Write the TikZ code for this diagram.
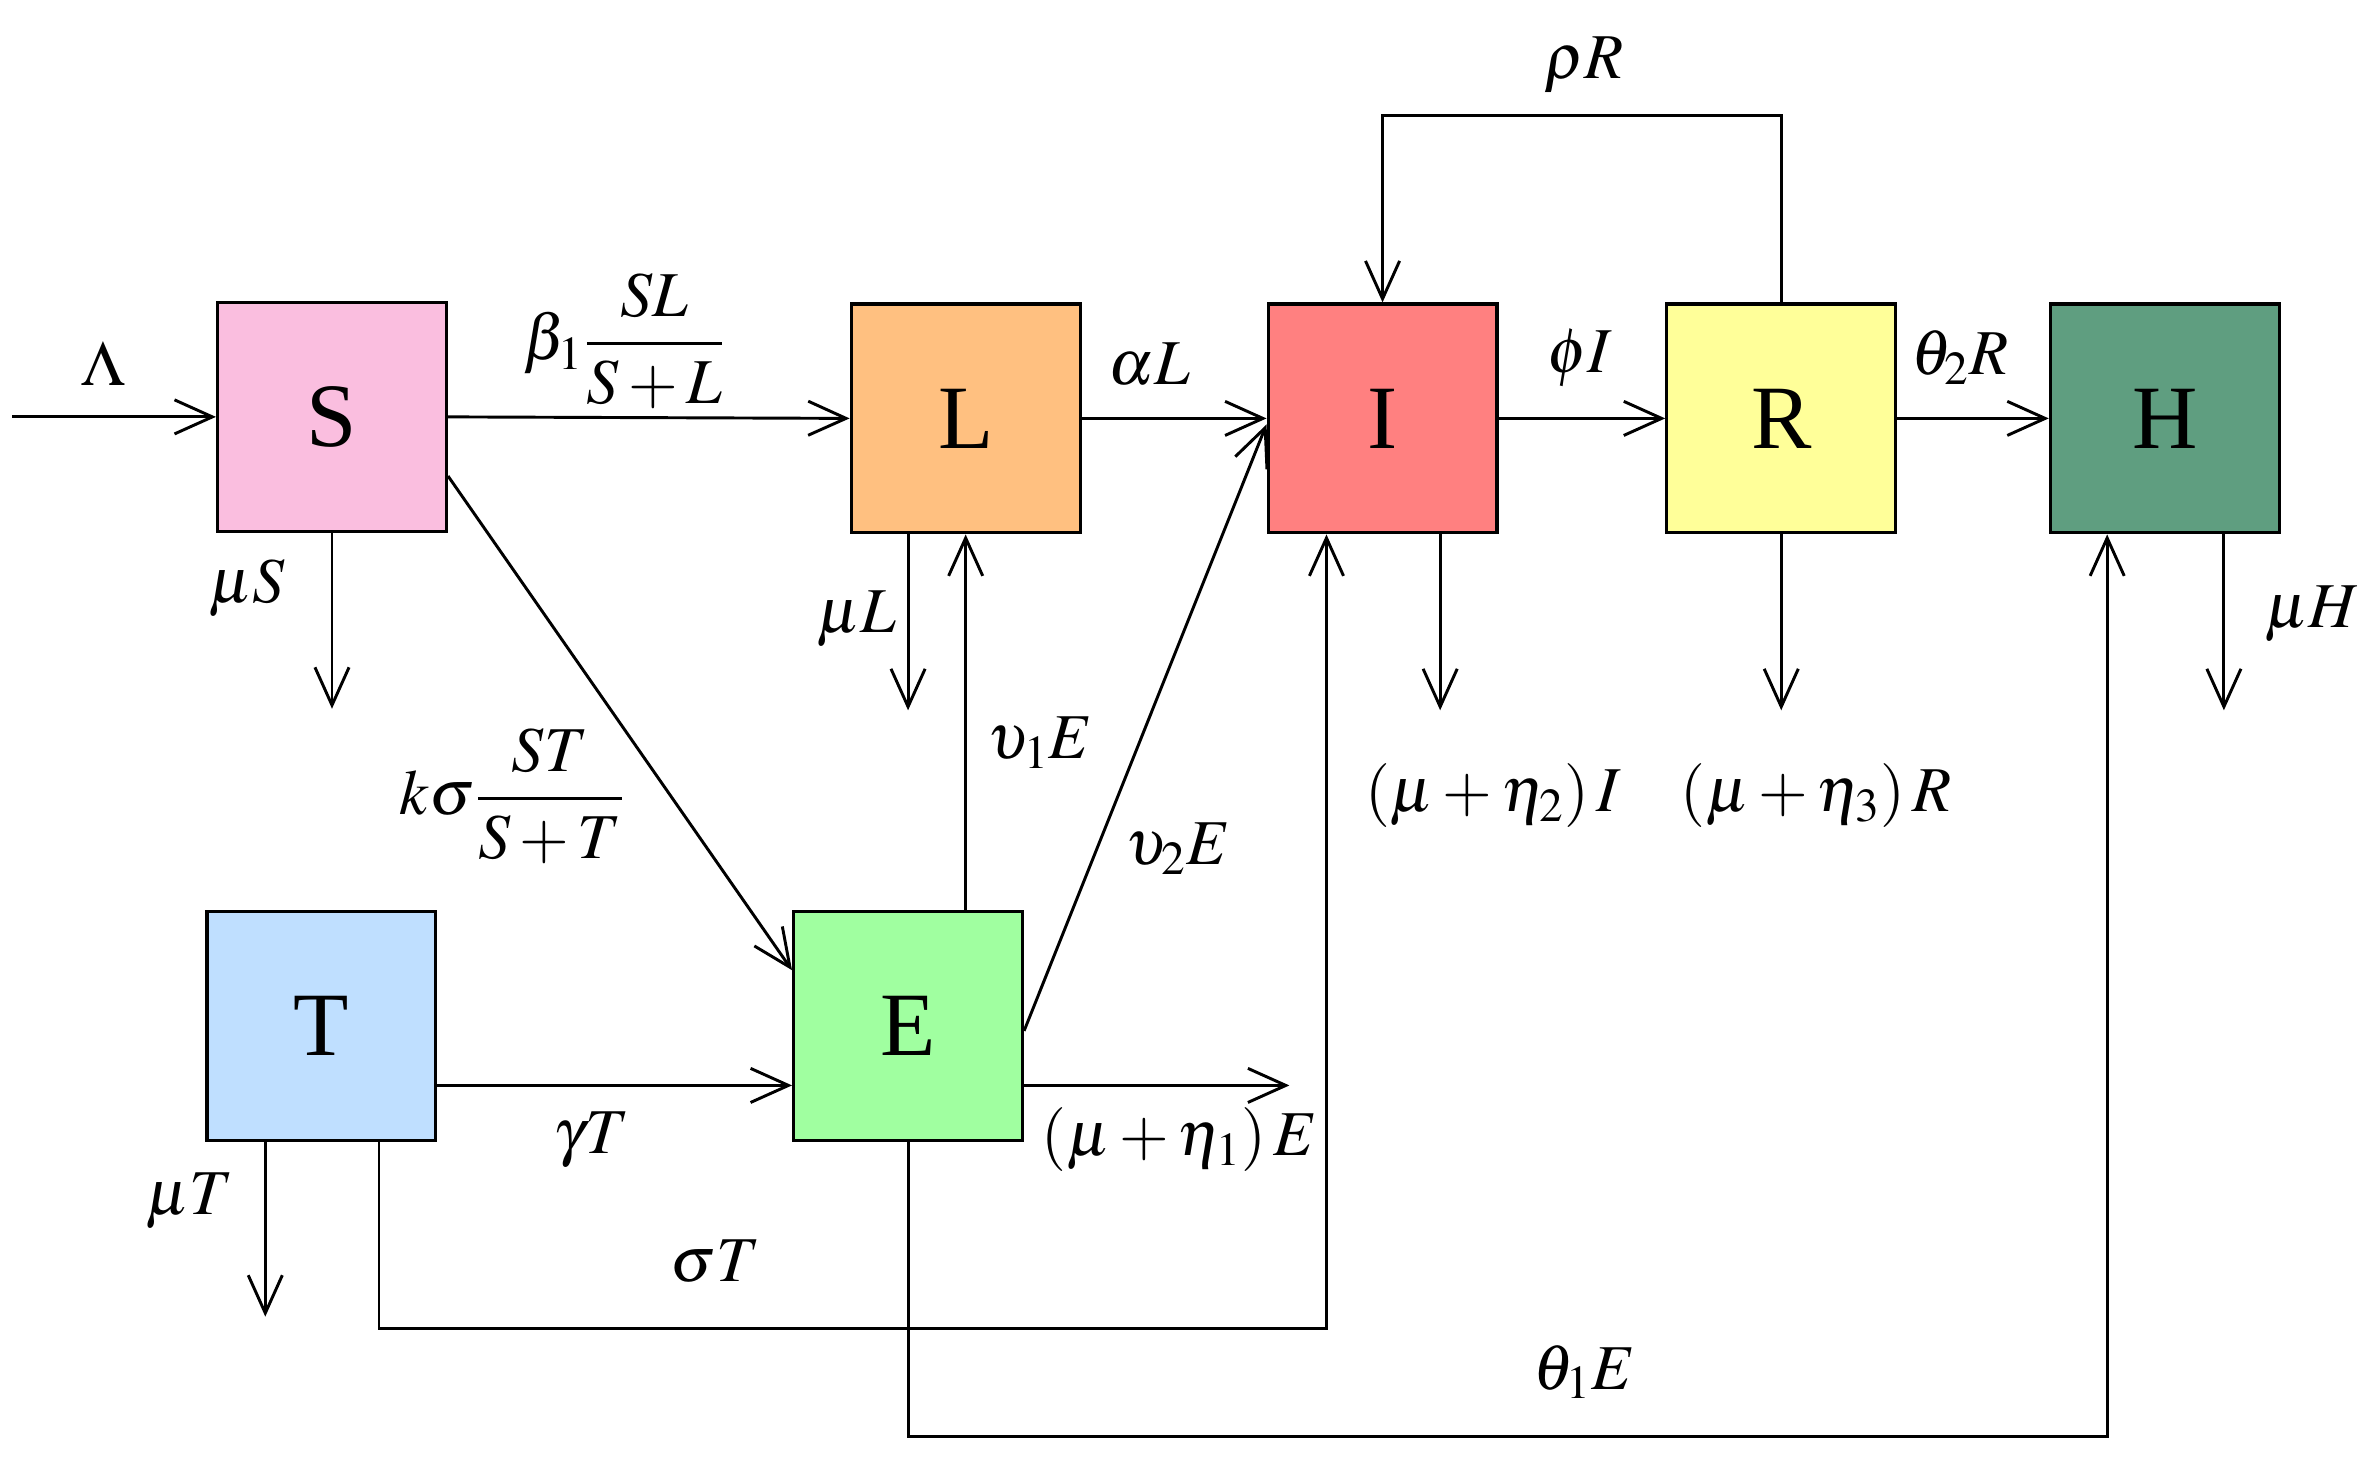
\documentclass[tikz,border=0pt]{standalone}
\usepackage{amsmath}
\usepackage{mathptmx}
\usepackage{fontspec}
\setmainfont{Liberation Serif}
\usetikzlibrary{arrows.meta,calc}
\definecolor{cS}{HTML}{FABEDF}
\definecolor{cL}{HTML}{FFC080}
\definecolor{cI}{HTML}{FF8080}
\definecolor{cR}{HTML}{FFFF99}
\definecolor{cH}{HTML}{5F9E80}
\definecolor{cT}{HTML}{BFDFFF}
\definecolor{cE}{HTML}{A0FFA0}
\begin{document}
\begin{tikzpicture}[x=0.02cm,y=-0.02cm,
  box/.style={draw,line width=1.2pt,minimum size=3.02cm,inner sep=0pt,font=\fontsize{34}{36}\selectfont},
  ar/.style={line width=1.1pt,-{Straight Barb[length=0.5cm,width=0.45cm,line width=1.1pt]}},
  lb/.style={font=\fontsize{24}{28}\selectfont,inner sep=0pt}]
\useasboundingbox (0,0) rectangle (1568,966);
\node[box,fill=cS] (S) at (219,275) {S};
\node[box,fill=cL] (L) at (637,276) {L};
\node[box,fill=cI] (I) at (912,276) {I};
\node[box,fill=cR] (R) at (1175,276) {R};
\node[box,fill=cH] (H) at (1428,276) {H};
\node[box,fill=cT] (T) at (212,677) {T};
\node[box,fill=cE] (E) at (599,677) {E};
\coordinate (lam) at (8,275);
\draw[ar] (lam) -- (S.west);
\node[lb] at (68,240) {$\Lambda$};
\draw[ar] (S.east) -- (L.west);
\node[lb] at (412,225) {$\beta_1\dfrac{SL}{S+L}$};
\draw[ar] (S.south) -- ++(0,116);
\node[lb] at (163,388) {$\mu S$};
\draw[ar] ($(S.east)+(0,39)$) -- ($(E.west)+(0,-37)$);
\node[lb] at (338,525) {$k\sigma\dfrac{ST}{S+T}$};
\draw[ar] ($(L.south)+(-38,0)$) -- ++(0,116);
\node[lb] at (565,408) {$\mu L$};
\draw[ar] (E.north -| L.south) -- (L.south);
\node[lb] at (686,490) {$\upsilon_1 E$};
\draw[ar] ($(E.east)+(0,3)$) -- ($(I.west)+(0,4)$);
\node[lb] at (777,560) {$\upsilon_2 E$};
\draw[ar] (L.east) -- (I.west);
\node[lb] at (758,240) {$\alpha L$};
\draw[ar] (I.east) -- (R.west);
\node[lb] at (1042,236) {$\phi I$};
\draw[ar] ($(I.south)+(38,0)$) -- ++(0,116);
\node[lb] at (985,525) {$(\mu+\eta_2)\,I$};
\draw[ar] (R.south) -- ++(0,116);
\node[lb] at (1198,525) {$(\mu+\eta_3)\,R$};
\draw[ar] (R.east) -- (H.west);
\node[lb] at (1293,236) {$\theta_2 R$};
\draw[ar] ($(H.south)+(39,0)$) -- ++(0,116);
\node[lb] at (1525,405) {$\mu H$};
\draw[ar] (R.north) -- ++(0,-123) -| (I.north);
\node[lb] at (1045,43) {$\rho R$};
\draw[ar] ($(T.east)+(0,39)$) -- ($(E.west)+(0,39)$);
\node[lb] at (390,752) {$\gamma T$};
\draw[ar] ($(T.south)+(-37,0)$) -- ++(0,115);
\node[lb] at (125,792) {$\mu T$};
\draw[ar] ($(E.east)+(0,39)$) -- ++(175,0);
\node[lb] at (778,752) {$(\mu+\eta_1)\,E$};
\draw[ar] ($(T.south)+(38,0)$) -- ++(0,123) -| ($(I.south)+(-37,0)$);
\node[lb] at (472,832) {$\sigma T$};
\draw[ar] (E.south) -- ++(0,194) -| ($(H.south)+(-38,0)$);
\node[lb] at (1045,905) {$\theta_1 E$};
\end{tikzpicture}
\end{document}
